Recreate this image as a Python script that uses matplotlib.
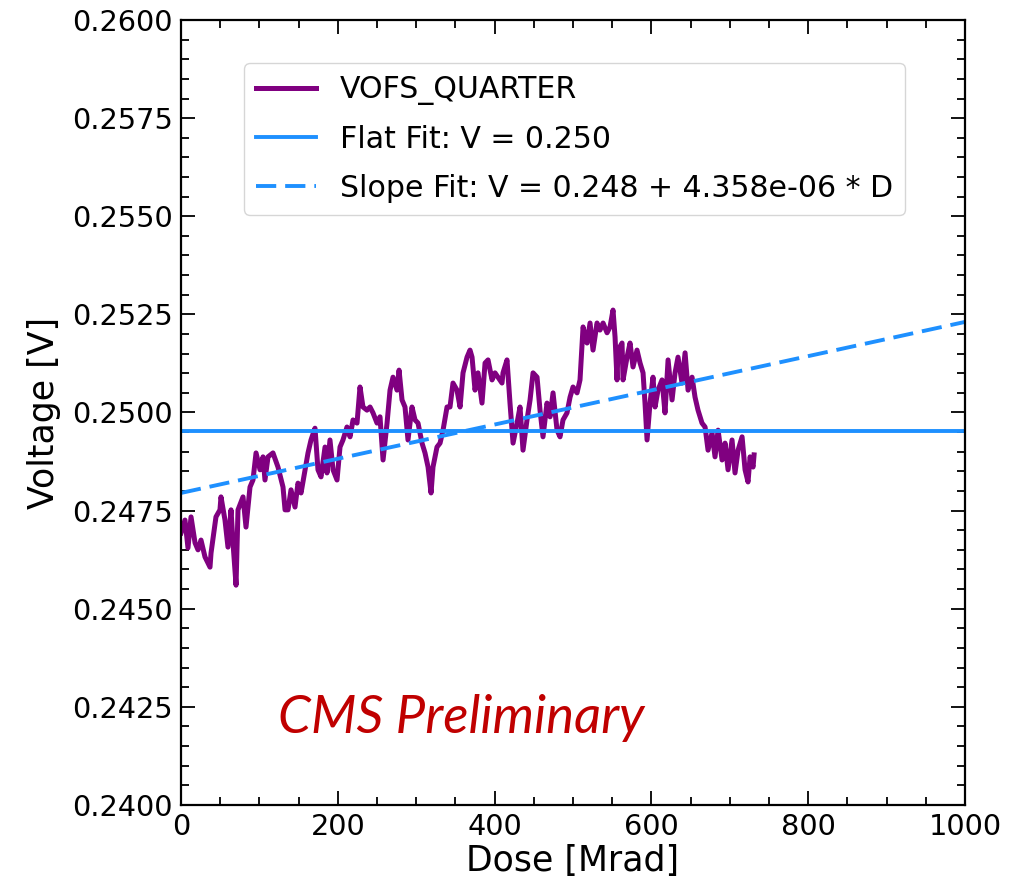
import numpy as np
import matplotlib
matplotlib.use("Agg")
import matplotlib.pyplot as plt
from matplotlib.ticker import MultipleLocator

# VOFS_QUARTER voltage vs dose
dose = [0, 5.1, 8.9, 12.8, 17.9, 21.7, 25.5, 30.6, 37.0, 38.3, 44.6, 49.7, 51.0, 56.1,
        59.9, 63.8, 66.3, 70.2, 72.7, 79.1, 82.9, 88.0, 91.8, 95.7, 100.8, 104.6, 107.1,
        111.0, 117.3, 123.7, 130.1, 132.7, 136.5, 140.3, 145.4, 149.2, 153.1, 158.2, 162.0,
        165.8, 170.9, 174.7, 178.6, 183.7, 186.2, 190.0, 193.9, 199.0, 202.8, 206.6, 211.7,
        215.6, 219.4, 224.5, 228.3, 232.1, 237.2, 241.1, 244.9, 250.0, 253.8, 257.7, 262.8,
        266.6, 270.4, 275.5, 278.1, 281.9, 285.7, 289.5, 294.6, 298.5, 302.3, 307.4, 311.2,
        315.1, 318.9, 321.4, 326.5, 330.4, 334.2, 339.3, 343.1, 346.9, 352.0, 355.9, 359.7,
        364.8, 368.6, 371.2, 375.0, 378.8, 383.9, 387.8, 391.6, 396.7, 400.5, 404.3, 409.4,
        410.7, 415.8, 419.6, 423.5, 428.6, 432.4, 436.2, 441.3, 445.2, 449.0, 454.1, 457.9,
        461.7, 466.8, 470.7, 474.5, 479.6, 483.4, 487.2, 492.3, 496.2, 500.0, 505.1, 508.9,
        512.8, 517.9, 521.7, 525.5, 530.6, 534.4, 538.3, 543.4, 547.2, 551.0, 553.6, 556.1,
        557.4, 562.5, 563.8, 568.9, 572.7, 576.5, 581.6, 585.5, 589.3, 591.8, 594.4, 598.2,
        602.0, 604.6, 608.4, 613.5, 617.3, 621.2, 626.3, 630.1, 633.9, 639.0, 642.9, 646.7,
        651.8, 655.6, 659.4, 664.5, 668.4, 672.2, 677.3, 681.1, 685.0, 690.1, 693.9, 697.7,
        702.8, 706.6, 710.5, 715.6, 719.4, 723.2, 725.8, 729.6, 730.9]

voltage = [0.24693, 0.24726, 0.24655, 0.24734, 0.24668, 0.24650, 0.24675, 0.24632, 0.24606,
           0.24642, 0.24734, 0.24752, 0.24785, 0.24726, 0.24657, 0.24752, 0.24668, 0.24560,
           0.24752, 0.24785, 0.24708, 0.24810, 0.24828, 0.24897, 0.24854, 0.24887, 0.24828,
           0.24887, 0.24897, 0.24861, 0.24810, 0.24752, 0.24752, 0.24803, 0.24759, 0.24820,
           0.24795, 0.24854, 0.24897, 0.24930, 0.24960, 0.24854, 0.24836, 0.24912, 0.24846,
           0.24930, 0.24854, 0.24828, 0.24912, 0.24930, 0.24963, 0.24938, 0.24981, 0.24973,
           0.25065, 0.25014, 0.25006, 0.25014, 0.24999, 0.24973, 0.24989, 0.24879, 0.24973,
           0.25057, 0.25090, 0.25057, 0.25108, 0.25032, 0.25014, 0.24930, 0.25014, 0.24981,
           0.24973, 0.24922, 0.24897, 0.24861, 0.24795, 0.24861, 0.24912, 0.24922, 0.24955,
           0.25014, 0.25014, 0.25075, 0.25057, 0.25014, 0.25101, 0.25141, 0.25159, 0.25141,
           0.25057, 0.25101, 0.25024, 0.25126, 0.25134, 0.25083, 0.25101, 0.25090, 0.25075,
           0.25101, 0.25134, 0.25024, 0.24922, 0.24973, 0.25014, 0.24904, 0.24981, 0.25032,
           0.25101, 0.25090, 0.25006, 0.24938, 0.25024, 0.24989, 0.25050, 0.24955, 0.24938,
           0.24981, 0.24999, 0.25039, 0.25065, 0.25050, 0.25083, 0.25218, 0.25177, 0.25228,
           0.25159, 0.25228, 0.25210, 0.25228, 0.25203, 0.25218, 0.25261, 0.25192, 0.25083,
           0.25159, 0.25177, 0.25083, 0.25141, 0.25177, 0.25116, 0.25159, 0.25126, 0.25101,
           0.25024, 0.24930, 0.25024, 0.25090, 0.25014, 0.25057, 0.25083, 0.24999, 0.25134,
           0.25032, 0.25101, 0.25141, 0.25075, 0.25152, 0.25057, 0.25090, 0.25039, 0.25006,
           0.24973, 0.24963, 0.24904, 0.24948, 0.24887, 0.24955, 0.24879, 0.24922, 0.24854,
           0.24930, 0.24846, 0.24904, 0.24938, 0.24854, 0.24823, 0.24887, 0.24861, 0.24892]

# fit results
flat_v = 0.24953
slope_a = 0.24795
slope_b = 4.358e-06

fit_x = np.array([0, 1000])

fig = plt.figure(figsize=(10.18, 8.89), dpi=100)
ax = fig.add_axes([0.1778, 0.0945, 0.7702, 0.883])

ax.plot(dose, voltage, color="purple", lw=3.6, label="VOFS_QUARTER")
ax.axhline(flat_v, color="#1E90FF", lw=2.8, label="Flat Fit: V = 0.250")
ax.plot(fit_x, slope_a + slope_b * fit_x, color="#1E90FF", lw=2.8, ls="--",
        dashes=(5.2, 2.3), label="Slope Fit: V = 0.248 + 4.358e-06 * D")

ax.set_xlim(0, 1000)
ax.set_ylim(0.2400, 0.2600)
ax.xaxis.set_major_locator(MultipleLocator(200))
ax.xaxis.set_minor_locator(MultipleLocator(50))
ax.yaxis.set_major_locator(MultipleLocator(0.0025))
ax.yaxis.set_minor_locator(MultipleLocator(0.0005))
ax.yaxis.set_major_formatter(matplotlib.ticker.FormatStrFormatter("%.4f"))
ax.tick_params(which="both", direction="in", top=True, right=True, labelsize=20.7, width=1.3)
ax.tick_params(which="major", length=10, pad=6)
ax.tick_params(which="minor", length=5.5)
for s in ax.spines.values():
    s.set_linewidth(1.6)

ax.set_xlabel("Dose [Mrad]", fontsize=25, labelpad=2)
ax.set_ylabel("Voltage [V]", fontsize=25, labelpad=8)

ax.legend(loc="upper left", bbox_to_anchor=(0.080, 0.945), borderaxespad=0,
          fontsize=21.6, handlelength=2.0, labelspacing=0.66, framealpha=0.8,
          edgecolor="#cccccc")

ax.text(0.124, 0.092, "CMS Preliminary", transform=ax.transAxes, color="#C00000",
        fontsize=38, fontstyle="italic", family="Lato")

plt.savefig("out.png", dpi=100)
